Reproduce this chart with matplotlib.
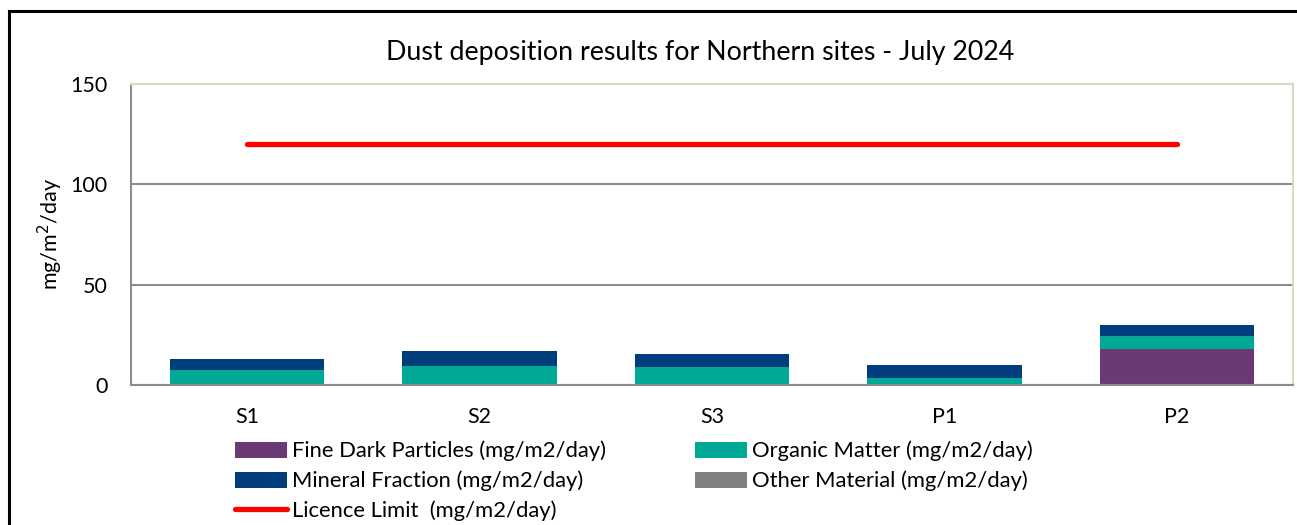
import numpy as np
import matplotlib.pyplot as plt
from matplotlib.lines import Line2D

plt.rcParams['font.family'] = ['Lato', 'DejaVu Sans']

sites = ['S1', 'S2', 'S3', 'P1', 'P2']
fine_dark = [0, 0, 0, 0, 17.8]
organic = [7.7, 9.7, 9.1, 3.7, 6.4]
mineral = [5.3, 7.0, 6.1, 6.4, 5.9]
other = [0, 0, 0, 0, 0]
licence_limit = [120, 120, 120, 120, 120]

fig = plt.figure(figsize=(12.97, 5.25), dpi=100)
ax = fig.add_axes([0.101, 0.2667, 0.896, 0.5733])

x = np.arange(len(sites))
w = 0.665
b1 = ax.bar(x, fine_dark, w, color='#6b3a76', label='Fine Dark Particles (mg/m2/day)')
b2 = ax.bar(x, organic, w, bottom=fine_dark, color='#00a896', label='Organic Matter (mg/m2/day)')
bot2 = np.array(fine_dark) + np.array(organic)
b3 = ax.bar(x, mineral, w, bottom=bot2, color='#003d7c', label='Mineral Fraction (mg/m2/day)')
bot3 = bot2 + np.array(mineral)
b4 = ax.bar(x, other, w, bottom=bot3, color='#808080', label='Other Material (mg/m2/day)')
ln, = ax.plot(x, licence_limit, color='#ff0000', lw=3.8, solid_capstyle='round',
              label='Licence Limit  (mg/m2/day)')

ax.set_xlim(-0.5, len(sites) - 0.5)
ax.set_ylim(0, 150)
ax.set_yticks([0, 50, 100, 150])
ax.set_xticks(x)
ax.set_xticklabels(sites)
ax.tick_params(axis='both', length=0, labelsize=15.5)
ax.tick_params(axis='x', pad=16)
ax.tick_params(axis='y', pad=17)
ax.yaxis.grid(True, color='#8c8c8c', lw=1.5)
ax.set_axisbelow(True)
for s in ['left', 'bottom']:
    ax.spines[s].set_color('#8c8c8c')
    ax.spines[s].set_linewidth(1.5)
for s in ['top', 'right']:
    ax.spines[s].set_color('#ddd8c4')
    ax.spines[s].set_linewidth(1.5)

ax.set_ylabel('mg/m$^2$/day', fontsize=15.5, labelpad=4)
fig.text(0.54, 0.9, 'Dust deposition results for Northern sites - July 2024',
         ha='center', va='center', fontsize=19.3)

handles = [b1, b3, ln, b2, b4]
labels = [h.get_label() for h in handles]
fig.legend(handles, labels, ncol=2, loc='upper left', bbox_to_anchor=(0.1745, 0.177),
           frameon=False, fontsize=15.8, handlelength=2.35, handleheight=0.75,
           handletextpad=0.23, columnspacing=4.08, labelspacing=0.42, borderaxespad=0)

# outer frame
fig.add_artist(Line2D([9 / 1297, 9 / 1297], [0, 1 - 11 / 525], color='black', lw=2.2,
                      transform=fig.transFigure))
fig.add_artist(Line2D([9 / 1297, 1], [1 - 11 / 525, 1 - 11 / 525], color='black', lw=2.2,
                      transform=fig.transFigure))

fig.savefig('out.png', dpi=100)
